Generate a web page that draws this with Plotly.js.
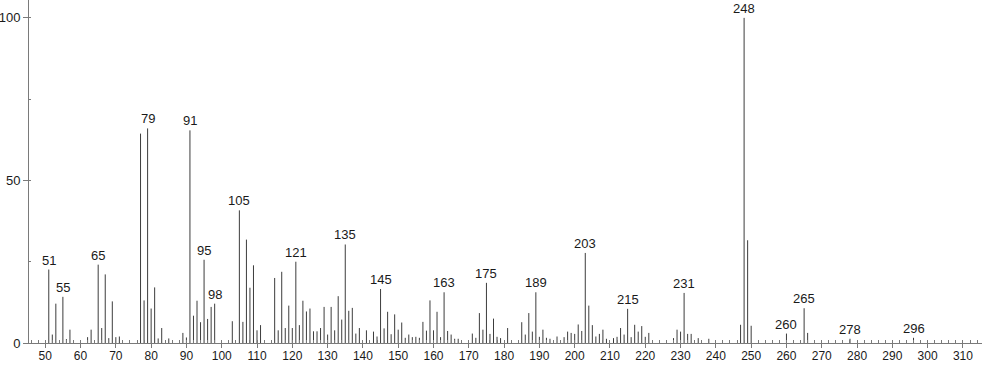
<!DOCTYPE html>
<html>
<head>
<meta charset="utf-8">
<script src="https://cdn.plot.ly/plotly-3.0.1.min.js"></script>
<style>html,body{margin:0;padding:0;background:#fff;}#chart{width:982px;height:365px;}</style>
</head>
<body>
<div id="chart"></div>
<script>
// m/z values of the peaks
const mz = [51,52,53,55,56,57,62,63,65,66,67,68,69,70,71,77,78,79,80,81,82,83,85,89,90,91,92,93,94,95,96,97,98,
  103,105,106,107,108,109,110,111,115,116,117,118,119,120,121,122,123,124,125,126,127,128,129,130,131,132,133,134,135,136,137,138,139,
  141,143,144,145,146,147,148,149,150,151,152,153,154,155,156,157,158,159,160,161,162,163,164,165,166,167,
  171,172,173,174,175,176,177,178,179,181,185,186,187,188,189,190,191,192,193,195,197,198,199,200,201,202,203,204,205,206,207,208,209,
  211,212,213,214,215,216,217,218,219,220,221,228,229,230,231,232,233,235,238,247,248,249,250,260,265,266,278,296];
// relative intensities (%)
const intensity = [22.6,2.6,12.1,14.2,1.2,4.1,1.8,4.1,24.1,4.6,21.1,1.5,12.8,1.8,2.0,64.4,13.1,66.0,10.6,17.1,1.4,4.6,1.4,3.1,1.7,65.4,8.4,13.0,6.4,25.6,7.4,11.1,12.1,
  6.7,40.8,6.5,31.8,17.0,23.9,3.9,5.5,20.0,3.9,21.9,4.6,11.5,4.6,25.0,5.5,13.0,9.7,10.6,3.6,3.6,4.6,11.1,2.6,11.1,3.9,14.4,7.2,30.3,9.9,10.8,2.9,4.6,
  3.9,3.5,2.0,16.6,4.5,9.6,2.7,8.8,4.1,6.3,1.6,2.6,1.8,1.9,1.6,6.5,3.8,13.1,3.9,9.6,1.8,15.6,3.7,2.6,1.3,1.3,
  2.9,1.6,9.2,4.1,18.5,2.8,7.5,1.9,1.5,4.6,6.4,2.6,9.2,3.5,15.6,1.9,4.1,1.6,1.3,2.0,1.8,3.5,3.1,2.8,5.7,3.7,27.7,11.5,5.5,2.0,2.8,4.1,1.3,
  1.5,1.9,4.6,2.6,10.5,1.8,5.6,3.5,5.2,1.9,3.1,1.5,4.1,3.5,15.4,2.8,2.8,1.5,1.3,5.6,100,31.6,5.3,2.9,10.7,3.1,1.3,1.6];
// labelled peaks
const labelMz = [51,55,65,79,91,95,98,105,121,135,145,163,175,189,203,215,231,248,260,265,278,296];
// axis ticks
const xTickVals = [50,60,70,80,90,100,110,120,130,140,150,160,170,180,190,200,210,220,230,240,250,260,270,280,290,300,310];
const yTickVals = [0,50,100];

const lx = [], ly = [];
mz.forEach((m, i) => { lx.push(m, m, null); ly.push(0, intensity[i], null); });

const annotations = labelMz.map(m => ({
  x: m, y: intensity[mz.indexOf(m)], xref: 'x', yref: 'y',
  text: String(m), showarrow: false, yanchor: 'bottom', yshift: 0,
  font: {family: 'Liberation Sans, Arial, sans-serif', size: 13, color: '#1a1a1a'}
}));

const trace = {x: lx, y: ly, type: 'scatter', mode: 'lines',
  line: {color: '#3c3c3c', width: 1}, hoverinfo: 'skip', showlegend: false};

const layout = {
  width: 982, height: 365,
  margin: {l: 29, r: 0, t: 0, b: 22, pad: 0},
  paper_bgcolor: '#fff', plot_bgcolor: '#fff',
  font: {family: 'Liberation Sans, Arial, sans-serif', size: 13, color: '#1a1a1a'},
  xaxis: {range: [45.4, 315.4], tickmode: 'array', tickvals: xTickVals, ticktext: xTickVals.map(String),
    showgrid: false, zeroline: false, showline: true, linecolor: '#7a7a7a', linewidth: 1,
    ticks: 'outside', ticklen: 4, tickcolor: '#7a7a7a', ticklabelstandoff: -2,
    minor: {dtick: 2, tick0: 50, ticks: 'inside', ticklen: 3, tickcolor: '#7a7a7a', showgrid: false},
    tickfont: {size: 12}},
  yaxis: {range: [0, 105.5], tickmode: 'array', tickvals: yTickVals, ticktext: yTickVals.map(String),
    showgrid: false, zeroline: false, showline: true, linecolor: '#7a7a7a', linewidth: 1,
    ticks: 'outside', ticklen: 5, tickcolor: '#7a7a7a',
    minor: {dtick: 25, tick0: 0, ticks: 'inside', ticklen: 2, tickcolor: '#7a7a7a', showgrid: false},
    tickfont: {size: 13}},
  annotations: annotations
};

Plotly.newPlot('chart', [trace], layout, {displayModeBar: false, staticPlot: true});
</script>
</body>
</html>
